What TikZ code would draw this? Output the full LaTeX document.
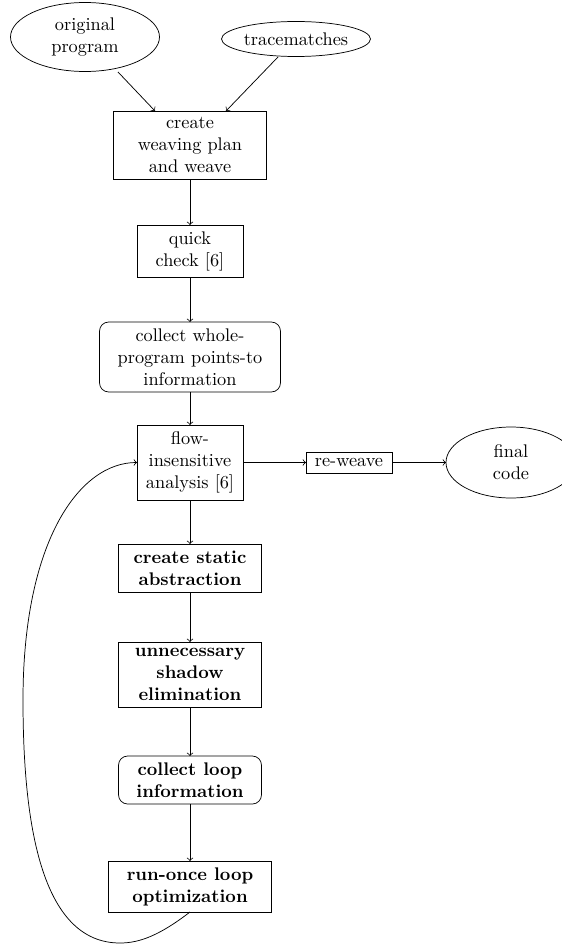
\documentclass[tikz,border=0pt]{standalone}
\usetikzlibrary{shapes.geometric,arrows}
\def\pxu{0.5464pt}
\begin{document}
\begin{tikzpicture}[x=\pxu,y=-\pxu,
  every node/.style={inner sep=0pt,outer sep=0pt,align=center,font=\normalsize},
  procbox/.style={draw,rectangle},
  roundbox/.style={draw,rectangle,rounded corners=5pt},
  oval/.style={draw,ellipse},
  arr/.style={->,>=to}]
\useasboundingbox (0,0) rectangle (561,945);
\node[oval,minimum width=149*\pxu,minimum height=69*\pxu] (orig) at (85,37) {original\\program};
\node[oval,minimum width=149*\pxu,minimum height=35*\pxu] (trace) at (296,39) {tracematches};
\node[procbox,minimum width=153*\pxu,minimum height=68*\pxu] (weave) at (190,145) {create\\weaving plan\\and weave};
\node[procbox,minimum width=106*\pxu,minimum height=52*\pxu] (quick) at (190,251) {quick\\check [6]};
\node[roundbox,minimum width=181*\pxu,minimum height=70*\pxu] (points) at (190,357) {collect whole-\\program points-to\\information};
\node[procbox,minimum width=106*\pxu,minimum height=75*\pxu] (flow) at (190,462.5) {flow-\\insensitive\\analysis [6]};
\node[procbox,minimum width=86*\pxu,minimum height=21*\pxu] (reweave) at (349,462.5) {re-weave};
\node[oval,minimum width=130*\pxu,minimum height=71*\pxu] (final) at (511,462.5) {final\\code};
\node[procbox,minimum width=143*\pxu,minimum height=48*\pxu,font=\normalsize\bfseries] (static) at (190,568) {create static\\abstraction};
\node[procbox,minimum width=143*\pxu,minimum height=65*\pxu,font=\normalsize\bfseries] (shadow) at (190,674.5) {unnecessary\\shadow\\elimination};
\node[roundbox,minimum width=143*\pxu,minimum height=48*\pxu,font=\normalsize\bfseries] (loopinfo) at (190,780) {collect loop\\information};
\node[procbox,minimum width=163*\pxu,minimum height=51*\pxu,font=\normalsize\bfseries] (runonce) at (190,886.5) {run-once loop\\optimization};
\coordinate (bot) at (120,943);
\coordinate (lft) at (23,700);
\draw[arr] (118,72) -- ([xshift=-35*\pxu]weave.north);
\draw[arr] (278,57) -- ([xshift=36*\pxu]weave.north);
\draw[arr] (weave) -- (quick);
\draw[arr] (quick) -- (points);
\draw[arr] (points) -- (flow);
\draw[arr] (flow) -- (reweave);
\draw[arr] (reweave) -- (final);
\draw[arr] (flow) -- (static);
\draw[arr] (static) -- (shadow);
\draw[arr] (shadow) -- (loopinfo);
\draw[arr] (loopinfo) -- (runonce);
\draw[arr] (runonce.south) .. controls (160,935) and (140,943) .. (bot)
  .. controls (40,943) and (23,820) .. (lft)
  .. controls (23,540) and (80,462.5) .. (flow.west);
\end{tikzpicture}
\end{document}
